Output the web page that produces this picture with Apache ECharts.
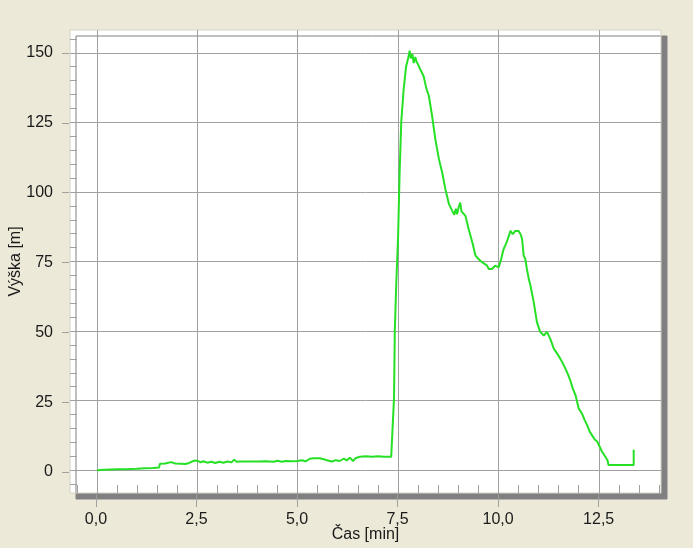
<!DOCTYPE html>
<html>
<head>
<meta charset="utf-8">
<script src="https://cdn.jsdelivr.net/npm/echarts@6/dist/echarts.min.js"></script>
<style>
  html, body { margin: 0; padding: 0; background: #ece9d8; }
  #chart { width: 693px; height: 548px; }
</style>
</head>
<body>
<div id="chart"></div>
<script>
// time [min] and height [m]
const timeMin = [
  0.00, 0.20, 0.50, 0.80, 1.00, 1.20, 1.40, 1.55, 1.57, 1.70,
  1.85, 1.95, 2.10, 2.20, 2.30, 2.38, 2.45, 2.52, 2.58, 2.65,
  2.75, 2.85, 2.95, 3.05, 3.15, 3.25, 3.35, 3.42, 3.48, 3.60,
  3.80, 4.00, 4.20, 4.40, 4.50, 4.60, 4.70, 4.85, 5.00, 5.10,
  5.20, 5.30, 5.40, 5.55, 5.65, 5.75, 5.85, 5.95, 6.05, 6.15,
  6.22, 6.30, 6.38, 6.45, 6.55, 6.70, 6.85, 7.00, 7.15, 7.33,
  7.36, 7.40, 7.42, 7.46, 7.50, 7.54, 7.58, 7.64, 7.70, 7.76,
  7.79, 7.82, 7.86, 7.89, 7.93, 7.96, 8.01, 8.06, 8.14, 8.20,
  8.27, 8.35, 8.43, 8.52, 8.60, 8.68, 8.77, 8.85, 8.90, 8.94,
  8.97, 9.02, 9.05, 9.08, 9.10, 9.18, 9.26, 9.35, 9.43, 9.50,
  9.55, 9.62, 9.72, 9.76, 9.84, 9.92, 10.01, 10.07, 10.13, 10.17,
  10.22, 10.26, 10.30, 10.36, 10.42, 10.46, 10.50, 10.55, 10.59, 10.63,
  10.67, 10.71, 10.76, 10.80, 10.88, 10.96, 11.04, 11.13, 11.21, 11.29,
  11.38, 11.46, 11.54, 11.60, 11.67, 11.73, 11.79, 11.85, 11.92, 12.00,
  12.08, 12.15, 12.21, 12.27, 12.33, 12.40, 12.46, 12.52, 12.58, 12.66,
  12.72, 12.74, 13.37, 13.37
];
const heightM = [
  0.0, 0.2, 0.3, 0.4, 0.5, 0.7, 0.8, 1.0, 2.3, 2.4,
  2.9, 2.4, 2.3, 2.2, 2.6, 3.2, 3.5, 3.3, 2.8, 3.2,
  2.7, 3.0, 2.6, 3.0, 2.7, 3.1, 2.8, 3.8, 3.0, 3.1,
  3.1, 3.1, 3.2, 3.0, 3.4, 3.0, 3.3, 3.2, 3.3, 3.6,
  3.2, 4.1, 4.3, 4.3, 3.9, 3.5, 3.1, 3.6, 3.3, 4.2,
  3.5, 4.5, 3.3, 4.4, 4.8, 5.0, 4.8, 5.0, 4.8, 4.8,
  4.3, 25.8, 50.2, 68.7, 83.0, 107.0, 125.0, 136.8, 145.0, 148.5,
  150.8, 148.0, 149.5, 146.3, 148.5, 146.9, 145.5, 143.9, 141.5, 137.5,
  134.4, 127.2, 118.9, 111.7, 107.0, 101.0, 95.6, 93.2, 91.8, 94.0,
  92.0, 95.0, 96.2, 93.0, 92.6, 91.4, 86.6, 81.9, 77.1, 76.0,
  75.3, 74.5, 73.5, 72.3, 72.3, 73.5, 72.9, 75.9, 79.5, 80.7,
  82.5, 84.2, 86.0, 84.8, 86.0, 85.5, 86.0, 84.9, 83.1, 77.1,
  75.9, 72.3, 68.5, 66.3, 60.4, 53.2, 49.7, 48.4, 49.7, 47.3,
  43.7, 42.0, 40.1, 38.5, 36.5, 34.5, 32.3, 29.5, 27.0, 22.2,
  20.4, 18.0, 16.2, 14.0, 12.6, 11.0, 10.3, 8.5, 6.7, 4.9,
  3.5, 1.9, 1.9, 7.3
];

const X_MIN = -0.67, X_MAX = 14.05, X_STEP = 2.5, X_TICK_MAX = 12.5;
const Y_MIN = -8.2, Y_MAX = 158.2, Y_STEP = 25, Y_TICK_MAX = 150;

const chart = echarts.init(document.getElementById('chart'));

// plot box (grid 0) and the box spanning only the labelled ticks (grid 1)
const plot = { left: 69, top: 30, width: 592, height: 465 };
const pxX = plot.width / (X_MAX - X_MIN);
const pxY = plot.height / (Y_MAX - Y_MIN);
const inner = {
  left: plot.left + (0 - X_MIN) * pxX,
  width: X_TICK_MAX * pxX,
  top: plot.top + (Y_MAX - Y_TICK_MAX) * pxY,
  height: Y_TICK_MAX * pxY
};

const gray = '#a0a0a0';
const font = { fontFamily: 'Arial, "Liberation Sans", sans-serif', fontSize: 16, color: '#1a1a1a' };

const fmtX = (v) => v.toFixed(1).replace('.', ',');

const option = {
  backgroundColor: '#ece9d8',
  animation: false,
  grid: [
    {
      show: true, left: plot.left, top: plot.top, width: plot.width, height: plot.height,
      backgroundColor: '#ffffff', borderColor: '#d6d3c6', borderWidth: 1,
      shadowColor: '#808080', shadowBlur: 0, shadowOffsetX: 6, shadowOffsetY: 6
    },
    { left: inner.left, top: inner.top, width: inner.width, height: inner.height }
  ],
  xAxis: [
    {
      gridIndex: 0, type: 'value', min: X_MIN, max: X_MAX,
      minInterval: X_STEP, maxInterval: X_STEP,
      name: 'Čas [min]', nameLocation: 'middle', nameGap: 34,
      nameTextStyle: font,
      axisLine: { show: false, onZero: false },
      axisTick: { show: false, inside: true },
      minorTick: { show: true, splitNumber: 5, length: 8, lineStyle: { color: gray } },
      axisLabel: { show: false },
      splitLine: { show: true, showMinLine: false, showMaxLine: false, lineStyle: { color: gray } }
    },
    {
      gridIndex: 1, type: 'value', min: 0, max: X_TICK_MAX, interval: X_STEP,
      position: 'bottom', offset: plot.top + plot.height - inner.top - inner.height,
      axisLine: { show: false, onZero: false },
      axisTick: { show: true, length: 12, lineStyle: { color: gray } },
      axisLabel: Object.assign({ margin: 17, formatter: fmtX }, font),
      splitLine: { show: false }
    }
  ],
  yAxis: [
    {
      gridIndex: 0, type: 'value', min: Y_MIN, max: Y_MAX,
      minInterval: Y_STEP, maxInterval: Y_STEP,
      name: 'Výška [m]', nameLocation: 'middle', nameGap: 46,
      nameTextStyle: font,
      axisLine: { show: false, onZero: false },
      axisTick: { show: false, inside: true },
      minorTick: { show: true, splitNumber: 5, length: 7, lineStyle: { color: gray } },
      axisLabel: { show: false },
      splitLine: { show: true, showMinLine: false, showMaxLine: false, lineStyle: { color: gray } }
    },
    {
      gridIndex: 1, type: 'value', min: 0, max: Y_TICK_MAX, interval: Y_STEP,
      position: 'left', offset: inner.left - plot.left,
      axisLine: { show: false, onZero: false },
      axisTick: { show: true, length: 7, lineStyle: { color: gray } },
      axisLabel: Object.assign({ margin: 16 }, font),
      splitLine: { show: false }
    }
  ],
  series: [
    {
      type: 'line', xAxisIndex: 0, yAxisIndex: 0,
      data: timeMin.map((t, i) => [t, heightM[i]]),
      showSymbol: false,
      lineStyle: { color: '#26e026', width: 2 }
    }
  ]
};

chart.setOption(option);
</script>
</body>
</html>
